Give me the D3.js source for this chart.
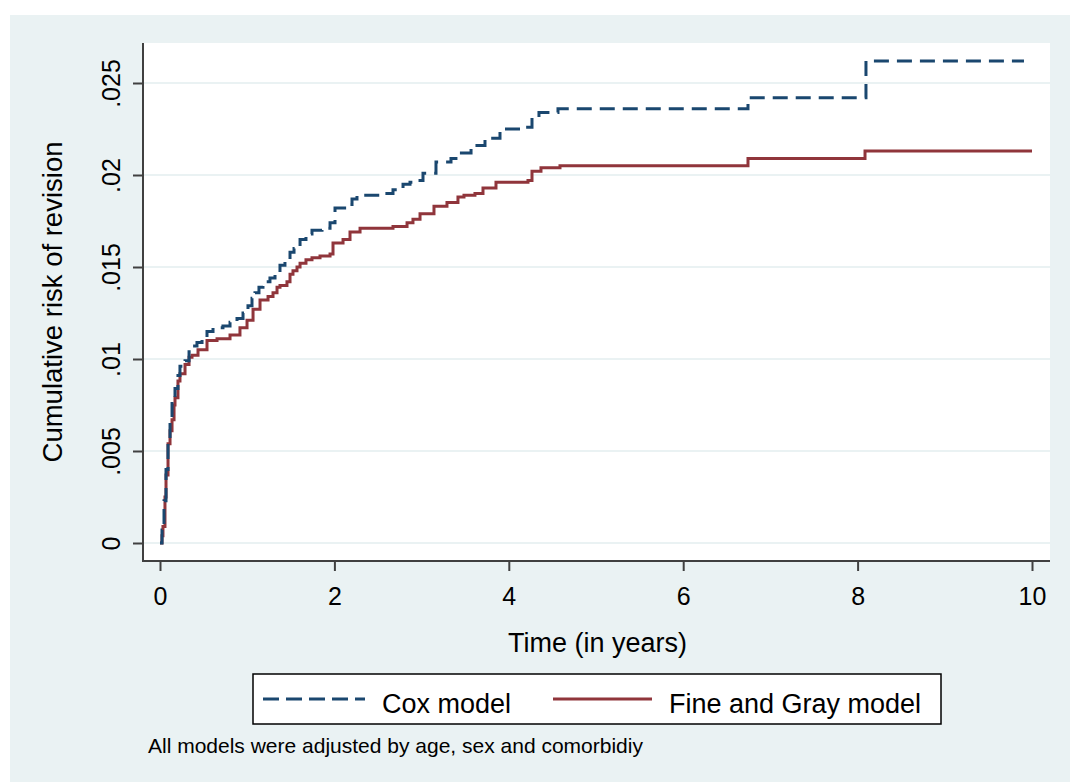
<!DOCTYPE html>
<html>
<head>
<meta charset="utf-8">
<script src="https://cdn.jsdelivr.net/npm/d3@7"></script>
<style>
  body { margin: 0; background: #fff; }
  svg { display: block; font-family: "Liberation Sans", Arial, sans-serif; }
</style>
</head>
<body>
<svg id="chart" width="1070" height="782"></svg>
<script>
// time in years, cumulative risk
const coxTime = [0, 0.023, 0.046, 0.069, 0.092, 0.115, 0.138, 0.172, 0.206, 0.229, 0.287, 0.333, 0.378, 0.424, 0.482,
  0.539, 0.608, 0.722, 0.803, 0.883, 0.952, 1.009, 1.055, 1.089, 1.135, 1.181, 1.261, 1.319, 1.376, 1.433, 1.491,
  1.537, 1.606, 1.674, 1.743, 1.858, 1.95, 2.007, 2.144, 2.202, 2.259, 2.557, 2.672, 2.787, 2.867, 2.947, 3.016,
  3.165, 3.337, 3.417, 3.567, 3.635, 3.727, 3.899, 4.197, 4.266, 4.346, 4.564, 6.743, 8.096, 9.908]
const coxRisk = [0, 0.0007, 0.0023, 0.004, 0.0056, 0.0067, 0.0078, 0.0084, 0.0091, 0.0096, 0.0099, 0.0104, 0.0107, 0.0109, 0.0111,
  0.0115, 0.0117, 0.0118, 0.012, 0.0122, 0.0125, 0.0129, 0.0133, 0.0136, 0.0139, 0.0142, 0.0144, 0.0147, 0.0151, 0.0154, 0.0158,
  0.016, 0.0165, 0.0168, 0.017, 0.0171, 0.0174, 0.0182, 0.0184, 0.0187, 0.0189, 0.019, 0.0192, 0.0195, 0.0196, 0.0197, 0.0201,
  0.0207, 0.0209, 0.0212, 0.0215, 0.0216, 0.022, 0.0225, 0.0226, 0.0231, 0.0234, 0.0236, 0.0242, 0.0262, 0.0262]

const fgTime = [0, 0.023, 0.034, 0.057, 0.069, 0.092, 0.115, 0.138, 0.161, 0.172, 0.206, 0.229, 0.287, 0.333, 0.367,
  0.436, 0.539, 0.654, 0.803, 0.917, 0.998, 1.067, 1.147, 1.239, 1.296, 1.342, 1.376, 1.456, 1.491, 1.525, 1.571,
  1.606, 1.674, 1.743, 1.835, 1.95, 1.984, 2.099, 2.179, 2.294, 2.672, 2.833, 2.901, 2.982, 3.142, 3.291, 3.417,
  3.486, 3.612, 3.704, 3.853, 4.22, 4.266, 4.369, 4.587, 6.743, 8.085, 10.0]
const fgRisk = [0, 0.0004, 0.0009, 0.0025, 0.0037, 0.0054, 0.0061, 0.0067, 0.0075, 0.0079, 0.0088, 0.0092, 0.0097, 0.0101, 0.0102,
  0.0105, 0.011, 0.0111, 0.0113, 0.0117, 0.0121, 0.0127, 0.0132, 0.0134, 0.0136, 0.0139, 0.014, 0.0142, 0.0146, 0.0148, 0.015,
  0.0152, 0.0154, 0.0155, 0.0156, 0.0157, 0.0163, 0.0165, 0.0169, 0.0171, 0.0172, 0.0174, 0.0176, 0.0179, 0.0183, 0.0185, 0.0188,
  0.0189, 0.019, 0.0193, 0.0196, 0.0197, 0.0202, 0.0204, 0.0205, 0.0209, 0.0213, 0.0213]

const xTicks = [0, 2, 4, 6, 8, 10]
const yTicks = [0, 0.005, 0.01, 0.015, 0.02, 0.025]
const yTickLabels = ["0", ".005", ".01", ".015", ".02", ".025"]

const seriesNames = ["Cox model", "Fine and Gray model"]
const NAVY = "#1a476f"
const MAROON = "#90353b"
const BG = "#eaf2f3"

const svg = d3.select("#chart")

// outer graph region
svg.append("rect").attr("x", 10).attr("y", 15).attr("width", 1060).attr("height", 767).attr("fill", BG)

const plotL = 143, plotR = 1050, plotT = 43, plotB = 561
svg.append("rect").attr("x", plotL).attr("y", plotT)
  .attr("width", plotR - plotL).attr("height", plotB - plotT).attr("fill", "#fff")

const x = d3.scaleLinear().domain([0, 10]).range([160, 1032])
const y = d3.scaleLinear().domain([0, 0.025]).range([543, 83])

// gridlines
svg.append("g").selectAll("line").data(yTicks).join("line")
  .attr("x1", plotL).attr("x2", plotR)
  .attr("y1", d => y(d)).attr("y2", d => y(d))
  .attr("stroke", BG).attr("stroke-width", 2)

// curves
const line = d3.line().curve(d3.curveStepAfter).x(d => x(d[0])).y(d => y(d[1]))
const coxPts = coxTime.map((t, i) => [t, coxRisk[i]])
const fgPts = fgTime.map((t, i) => [t, fgRisk[i]])

svg.append("path").datum(fgPts).attr("d", line)
  .attr("fill", "none").attr("stroke", MAROON).attr("stroke-width", 3)
svg.append("path").datum(coxPts).attr("d", line)
  .attr("fill", "none").attr("stroke", NAVY).attr("stroke-width", 3)
  .attr("stroke-dasharray", "15,8")

// axes
const axisColor = "#404040"
const xAxis = svg.append("g").attr("transform", `translate(0,${plotB})`)
  .call(d3.axisBottom(x).tickValues(xTicks).tickSize(10).tickPadding(16).tickFormat(d3.format("d")))
xAxis.select(".domain").remove()
xAxis.selectAll("line").attr("stroke", axisColor).attr("stroke-width", 2)
xAxis.selectAll("text").attr("font-size", 25).attr("fill", "#000").attr("font-family", "Liberation Sans, Arial, sans-serif")

const yAxis = svg.append("g").attr("transform", `translate(${plotL},0)`)
  .call(d3.axisLeft(y).tickValues(yTicks).tickSize(10).tickFormat((d, i) => yTickLabels[i]))
yAxis.select(".domain").remove()
yAxis.selectAll("line").attr("stroke", axisColor).attr("stroke-width", 2)
yAxis.selectAll("text")
  .attr("font-size", 25).attr("fill", "#000").attr("font-family", "Liberation Sans, Arial, sans-serif")
  .attr("x", null).attr("dy", null)
  .attr("text-anchor", "middle")
  .attr("transform", "translate(-23,0) rotate(-90)")

svg.append("line").attr("x1", plotL).attr("x2", plotL).attr("y1", plotT).attr("y2", plotB + 1)
  .attr("stroke", axisColor).attr("stroke-width", 2)
svg.append("line").attr("x1", plotL - 1).attr("x2", plotR).attr("y1", plotB).attr("y2", plotB)
  .attr("stroke", axisColor).attr("stroke-width", 2)

// axis titles
svg.append("text").attr("x", (plotL + plotR) / 2 + 1).attr("y", 652)
  .attr("text-anchor", "middle").attr("font-size", 27).text("Time (in years)")
svg.append("text").attr("transform", `translate(62,${(plotT + plotB) / 2}) rotate(-90)`)
  .attr("text-anchor", "middle").attr("font-size", 27.5).text("Cumulative risk of revision")

// legend
const legend = svg.append("g")
legend.append("rect").attr("x", 253).attr("y", 674).attr("width", 688).attr("height", 50)
  .attr("fill", "#fff").attr("stroke", "#000").attr("stroke-width", 1.5)
const legendItems = [
  { name: seriesNames[0], color: NAVY, dash: "16,7", x0: 263, x1: 365, tx: 382 },
  { name: seriesNames[1], color: MAROON, dash: null, x0: 553, x1: 652, tx: 669 },
]
legendItems.forEach(it => {
  legend.append("line").attr("x1", it.x0).attr("x2", it.x1).attr("y1", 699).attr("y2", 699)
    .attr("stroke", it.color).attr("stroke-width", 3).attr("stroke-dasharray", it.dash)
  legend.append("text").attr("x", it.tx).attr("y", 713).attr("font-size", 27).text(it.name)
})

// note
svg.append("text").attr("x", 148).attr("y", 753).attr("font-size", 21)
  .text("All models were adjusted by age, sex and comorbidiy")
</script>
</body>
</html>
